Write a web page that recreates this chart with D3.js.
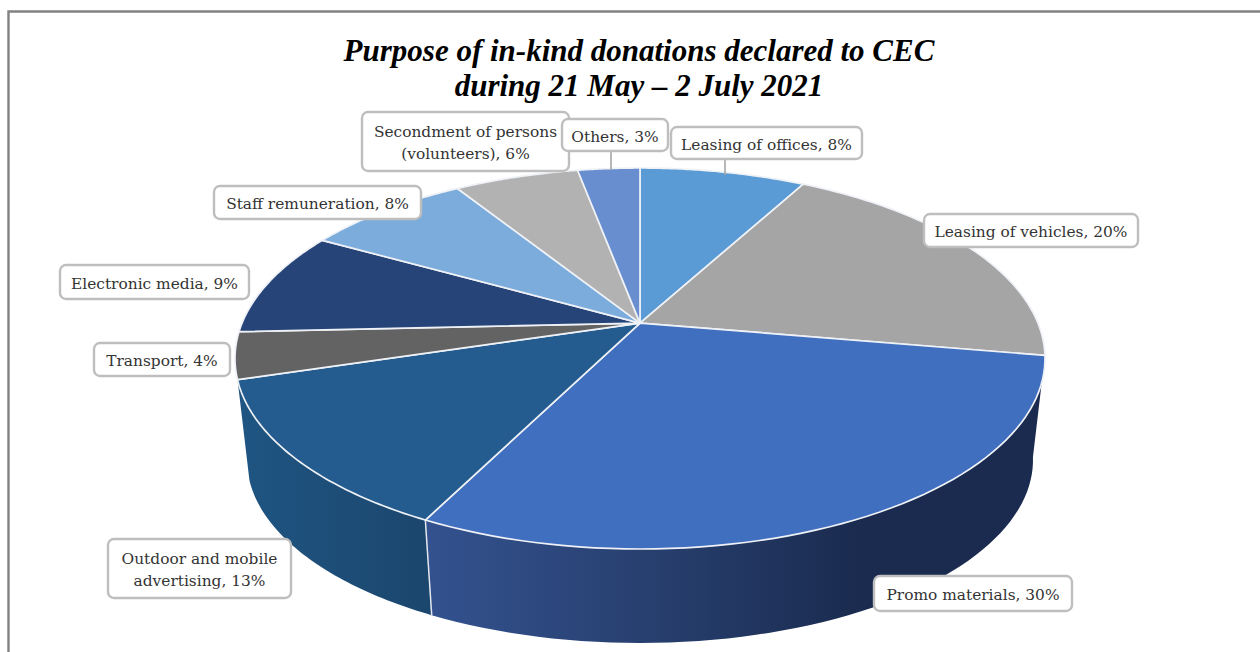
<!DOCTYPE html>
<html>
<head>
<meta charset="utf-8">
<script src="https://cdn.jsdelivr.net/npm/d3@7"></script>
<style>
  html, body { margin: 0; padding: 0; background: #fff; }
  svg { display: block; }
  .label { font-family: "DejaVu Serif", serif; }
  .title { font-family: "Liberation Serif", serif; }
</style>
</head>
<body>
<svg id="chart" width="1260" height="652"></svg>
<script>
// Purpose of in-kind donations, percent of the declared total
const categories = ["Leasing of offices", "Leasing of vehicles", "Promo materials",
  "Outdoor and mobile advertising", "Transport", "Electronic media",
  "Staff remuneration", "Secondment of persons (volunteers)", "Others"];
const shares = [8, 20, 30, 13, 4, 9, 8, 6, 3];
const sliceColors = ["#5b9bd5", "#a5a5a5", "#416fbf", "#255c8f", "#636363",
  "#264478", "#7cacdc", "#b2b2b2", "#698ed0"];
const titleLines = ["Purpose of in-kind donations declared to CEC", "during 21 May – 2 July 2021"];

// Label boxes: wrapped text lines and box corners, in the order of the categories
const labelLines = [
  ["Leasing of offices, 8%"], ["Leasing of vehicles, 20%"], ["Promo materials, 30%"],
  ["Outdoor and mobile", "advertising, 13%"], ["Transport, 4%"], ["Electronic media, 9%"],
  ["Staff remuneration, 8%"], ["Secondment of persons", "(volunteers), 6%"], ["Others, 3%"]];
const labelBoxes = [
  [671, 127, 862, 159], [924, 214, 1138, 247], [874, 576, 1072, 611],
  [108, 539, 291, 598], [94, 343, 230, 376], [60, 265, 249, 299],
  [214, 186, 421, 219], [362, 112, 569, 171], [562, 119, 668, 151]];
// Leader lines run from a box down to the rim of its slice
const leaders = [[725, 159, 725, 175], [611, 151, 611, 170]];

const svg = d3.select("#chart");

// Frame of the chart area: only the top and left edges fall inside the page
svg.append("path").attr("d", "M8.5,652V11.5H1260").attr("fill", "none")
  .attr("stroke", "#828282").attr("stroke-width", 2.4);

// The disc is tilted: the unit circle is sent through a projective map that moves
// its centre off the middle of the ellipse, then scaled to the top and bottom rims.
const tilt = -0.186;
const squeeze = Math.sqrt(1 - tilt * tilt);
const topX = d3.scaleLinear().domain([-1, 1]).range([235, 1045]);
const topY = d3.scaleLinear().domain([-1, 1]).range([168, 549]);
const baseX = d3.scaleLinear().domain([-1, 1]).range([247, 1033]);
const baseY = d3.scaleLinear().domain([-1, 1]).range([277, 643]);

function disc(angle, r) {
  const u = r * Math.sin(angle), v = -r * Math.cos(angle);
  const w = 1 + tilt * v;
  return [u * squeeze / w, (v + tilt) / w];
}
const onTop = (angle, r = 1) => { const p = disc(angle, r); return [topX(p[0]), topY(p[1])]; };
const onBase = (angle) => { const p = disc(angle, 1); return [baseX(p[0]), baseY(p[1])]; };
const arcAngles = (a, b) => d3.range(0, 61).map(i => a + (b - a) * i / 60);

const slices = d3.pie().sort(null).value(d => d)(shares);
const line = d3.line();
const defs = svg.append("defs");

function sideGradient(id, x1, x2, stops) {
  const g = defs.append("linearGradient").attr("id", id)
    .attr("gradientUnits", "userSpaceOnUse")
    .attr("x1", x1).attr("x2", x2).attr("y1", 0).attr("y2", 0);
  stops.forEach(s => g.append("stop").attr("offset", s[0]).attr("stop-color", s[1]));
}
sideGradient("side-promo", topX(-0.53), 860, [[0, "#33528f"], [0.5, "#284070"], [1, "#1a2b4f"]]);
sideGradient("side-outdoor", 240, 430, [[0, "#1f5582"], [1, "#1b466d"]]);

// Wall of the disc: only the two slices at the front show theirs
const wall = svg.append("g");
[[2, "url(#side-promo)"], [3, "url(#side-outdoor)"]].forEach(([i, fill]) => {
  const angles = arcAngles(slices[i].startAngle, slices[i].endAngle);
  wall.append("path")
    .attr("d", line(angles.map(a => onTop(a)).concat(angles.slice().reverse().map(onBase))) + "Z")
    .attr("fill", fill);
});
wall.append("path")
  .attr("d", line([onTop(slices[2].endAngle), onBase(slices[2].endAngle)]))
  .attr("stroke", "#e4e8ee").attr("stroke-width", 1.5).attr("fill", "none");

// Top face
svg.append("g").selectAll("path").data(slices).join("path")
  .attr("d", d => line([onTop(0, 0)].concat(arcAngles(d.startAngle, d.endAngle).map(a => onTop(a)))) + "Z")
  .attr("fill", (d, i) => sliceColors[i])
  .attr("stroke", "#eef1f6").attr("stroke-width", 1.7).attr("stroke-linejoin", "round");

// Leaders
svg.append("g").selectAll("line").data(leaders).join("line")
  .attr("x1", d => d[0]).attr("y1", d => d[1]).attr("x2", d => d[2]).attr("y2", d => d[3])
  .attr("stroke", "#a6a6a6").attr("stroke-width", 1.6);

// Data labels
const labels = svg.append("g").selectAll("g").data(categories).join("g");
labels.append("rect")
  .attr("x", (d, i) => labelBoxes[i][0]).attr("y", (d, i) => labelBoxes[i][1])
  .attr("width", (d, i) => labelBoxes[i][2] - labelBoxes[i][0])
  .attr("height", (d, i) => labelBoxes[i][3] - labelBoxes[i][1])
  .attr("rx", 6).attr("fill", "#fff").attr("stroke", "#bebebe").attr("stroke-width", 2.4);
labels.each(function (d, i) {
  const [x0, y0, x1, y1] = labelBoxes[i];
  const rows = labelLines[i];
  const lineGap = 22.5;
  const firstY = (y0 + y1) / 2 + 6.5 - (rows.length - 1) * lineGap / 2;
  d3.select(this).selectAll("text").data(rows).join("text")
    .attr("class", "label")
    .attr("x", (x0 + x1) / 2).attr("y", (r, j) => firstY + j * lineGap)
    .attr("text-anchor", "middle").attr("font-size", 15.4).attr("fill", "#333")
    .text(r => r);
});

// Title
svg.append("g").selectAll("text").data(titleLines).join("text")
  .attr("class", "title")
  .attr("x", 639).attr("y", (d, i) => 61 + i * 35)
  .attr("text-anchor", "middle").attr("font-size", 31).attr("font-weight", "bold")
  .attr("font-style", "italic").attr("fill", "#000").text(d => d);
</script>
</body>
</html>
